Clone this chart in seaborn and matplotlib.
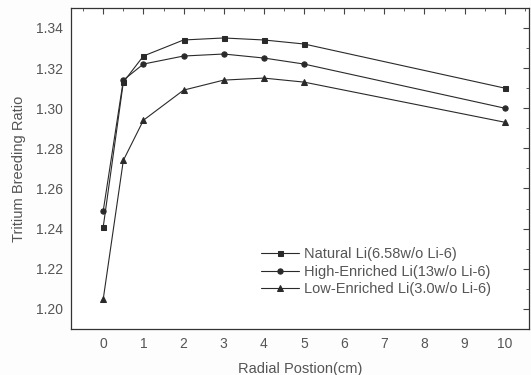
import numpy as np
import pandas as pd
import matplotlib
matplotlib.use("Agg")
import matplotlib.pyplot as plt
import seaborn as sns
from matplotlib.ticker import MultipleLocator

radial = [0, 0.5, 1, 2, 3, 4, 5, 10]
natural = [1.241, 1.313, 1.326, 1.334, 1.335, 1.334, 1.332, 1.310]
high = [1.249, 1.314, 1.322, 1.326, 1.327, 1.325, 1.322, 1.300]
low = [1.205, 1.274, 1.294, 1.309, 1.314, 1.315, 1.313, 1.293]
labels = ["Natural Li(6.58w/o Li-6)", "High-Enriched Li(13w/o Li-6)", "Low-Enriched Li(3.0w/o Li-6)"]
xticks = list(range(0, 11))
yticks = [1.20, 1.22, 1.24, 1.26, 1.28, 1.30, 1.32, 1.34]

rows = []
for lab, vals in zip(labels, [natural, high, low]):
    for x, v in zip(radial, vals):
        rows.append({"x": x, "y": v, "series": lab})
df = pd.DataFrame(rows)

sns.set_style("white")
plt.rcParams['font.family'] = ['Liberation Sans', 'DejaVu Sans']

fig = plt.figure(figsize=(5.31, 3.75), dpi=100)
fig.patch.set_facecolor("#fdfdfd")
ax = fig.add_axes([0.134, 0.123, 0.862, 0.856])
ax.set_facecolor("white")

marker_map = {labels[0]: "s", labels[1]: "o", labels[2]: "^"}
sns.lineplot(data=df, x="x", y="y", style="series", hue="series",
             palette=["#2a2a2a"] * 3, markers=marker_map,
             dashes=False, markersize=4, linewidth=0.8, markeredgecolor="#2a2a2a",
             ax=ax, legend=True)

size_map = {"s": 3.6, "o": 3.8, "^": 5.0}
for line in ax.lines:
    m = line.get_marker()
    if m in size_map:
        line.set_markersize(size_map[m])

ax.set_xlim(-0.8, 10.6)
ax.set_ylim(1.19, 1.35)
ax.set_xticks(xticks)
ax.set_yticks(yticks)
ax.set_yticklabels([f"{t:.2f}" for t in yticks])
ax.xaxis.set_minor_locator(MultipleLocator(0.5))
ax.yaxis.set_minor_locator(MultipleLocator(0.01))
ax.tick_params(which="both", direction="in", top=True, right=True, color="#444444",
               labelcolor="#555555", labelsize=10)
ax.tick_params(which="major", length=4, width=0.8, pad=6)
ax.tick_params(which="minor", length=2, width=0.6)
for s in ax.spines.values():
    s.set_color("#333333")
    s.set_linewidth(0.9)

ax.set_xlabel("Radial Postion(cm)", color="#555555", fontsize=10.5, labelpad=8)
ax.set_ylabel("Tritium Breeding Ratio", color="#555555", fontsize=10.5, labelpad=7)

leg = ax.legend(loc="center left", bbox_to_anchor=(0.415, 0.178), frameon=False,
                borderpad=0, borderaxespad=0,
                fontsize=10.5, handlelength=2.6, handletextpad=0.35, labelspacing=0.25)
for line in leg.get_lines():
    m = line.get_marker()
    if m in size_map:
        line.set_markersize(size_map[m])
for t in leg.get_texts():
    t.set_color("#555555")

fig.savefig("out.png", dpi=100, facecolor=fig.get_facecolor())
